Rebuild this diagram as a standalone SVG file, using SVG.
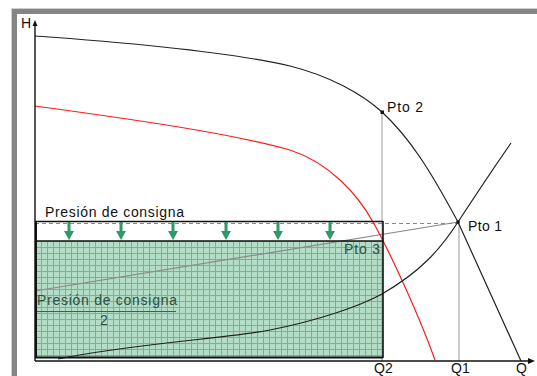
<svg xmlns="http://www.w3.org/2000/svg" width="537" height="376" viewBox="0 0 537 376">
<defs>
<style>
.t{font-family:"Liberation Sans",Arial,sans-serif;font-size:14px;fill:#111}
.tg{font-family:"Liberation Sans",Arial,sans-serif;font-size:14px;fill:#2f5242}
.crv{fill:none;stroke:#222;stroke-width:1.2;stroke-linejoin:round}
.red{fill:none;stroke:#ff1a1a;stroke-width:1.2;stroke-linejoin:round}
.gl{fill:none;stroke:#999;stroke-width:1}
.arr{fill:#2e9a66}
</style>
<pattern id="grid" x="35" y="241" width="6" height="6" patternUnits="userSpaceOnUse">
<rect width="6" height="6" fill="#b3ddc7"/>
<path d="M0 0.5H6M0.5 0V6" stroke="#6fb794" stroke-width="1"/>
</pattern>
<g id="garrow">
<rect x="-1.5" y="0" width="3" height="10" class="arr"/>
<path d="M-5 9L5 9L0 18Z" class="arr"/>
</g>
</defs>
<rect width="537" height="376" fill="#fff"/>
<g id="frame">
<path d="M11.5 376V8.5H537" fill="none" stroke="#cfcfcf"/>
<rect x="12" y="9" width="5" height="367" fill="#858585"/>
<rect x="12" y="9" width="525" height="5" fill="#858585"/>
</g>
<g id="band">
<rect x="35" y="221" width="348" height="20" fill="#fff"/>
<rect x="35" y="241" width="348" height="117" fill="url(#grid)"/>
</g>
<g id="connectors">
<line x1="382" y1="112" x2="382" y2="361" class="gl"/>
<line x1="459" y1="222" x2="459" y2="361" class="gl"/>
<line x1="35" y1="223.5" x2="458" y2="223.5" stroke="#888" stroke-dasharray="4,3" stroke-width="1"/>
<line x1="35" y1="291" x2="458" y2="222" stroke="#8a8a8a" stroke-width="1.2"/>
<path class="crv" d="M35 36C120 42 230 52 290 66C330 76 362 94 382 112C410 138 430 170 458 222L521 361"/>
<path class="red" d="M35 106C130 119 230 133 290 150C330 163 358 195 373 222C392 256 420 318 435 360"/>
<path class="crv" d="M58 359C130 344 230 338 270 330C320 320 360 306 382 294C420 272 440 250 458 222C475 196 495 166 511 143"/>
</g>
<g id="setpoint">
<line x1="35" y1="221.5" x2="383" y2="221.5" stroke="#111" stroke-width="1.4"/>
<line x1="35" y1="241" x2="383" y2="241" stroke="#111" stroke-width="1.4"/>
<line x1="383" y1="221" x2="383" y2="358" stroke="#111" stroke-width="1.6"/>
<line x1="35" y1="357.5" x2="383" y2="357.5" stroke="#111" stroke-width="2"/>
<line x1="36" y1="221" x2="36" y2="358" stroke="#111" stroke-width="2"/>
<use href="#garrow" x="69" y="222"/>
<use href="#garrow" x="121" y="222"/>
<use href="#garrow" x="173" y="222"/>
<use href="#garrow" x="226" y="222"/>
<use href="#garrow" x="278" y="222"/>
<use href="#garrow" x="330" y="222"/>
<text class="t" x="45" y="217" textLength="139" lengthAdjust="spacing">Presión de consigna</text>
<text class="tg" x="37" y="305" textLength="140" lengthAdjust="spacing">Presión de consigna</text>
<line x1="37" y1="311.5" x2="176" y2="311.5" stroke="#3f5f50" stroke-width="1"/>
<text class="tg" x="100" y="325">2</text>
</g>
<g id="axes">
<line x1="35" y1="361" x2="531" y2="361" stroke="#111" stroke-width="1.4"/>
<path d="M535 361L528 358L528 364Z" fill="#111"/>
<line x1="35" y1="24" x2="35" y2="361" stroke="#111" stroke-width="1.4"/>
<path d="M35 20L32.5 26L37.5 26Z" fill="#111"/>
<text class="t" x="21" y="28">H</text>
<text class="t" x="374" y="373" font-size="13">Q2</text>
<text class="t" x="451" y="373" font-size="13">Q1</text>
<text class="t" x="516" y="373" font-size="13">Q</text>
</g>
<g id="pto1">
<circle cx="458" cy="222" r="1.8" fill="#111"/>
<text class="t" x="468" y="231" textLength="34" lengthAdjust="spacing">Pto 1</text>
</g>
<g id="pto2">
<rect x="380.5" y="110.5" width="3.5" height="3.5" fill="#111"/>
<text class="t" x="387" y="112" textLength="36" lengthAdjust="spacing">Pto 2</text>
</g>
<g id="pto3">
<text class="tg" x="344" y="254" textLength="36" lengthAdjust="spacing">Pto 3</text>
</g>
</svg>
